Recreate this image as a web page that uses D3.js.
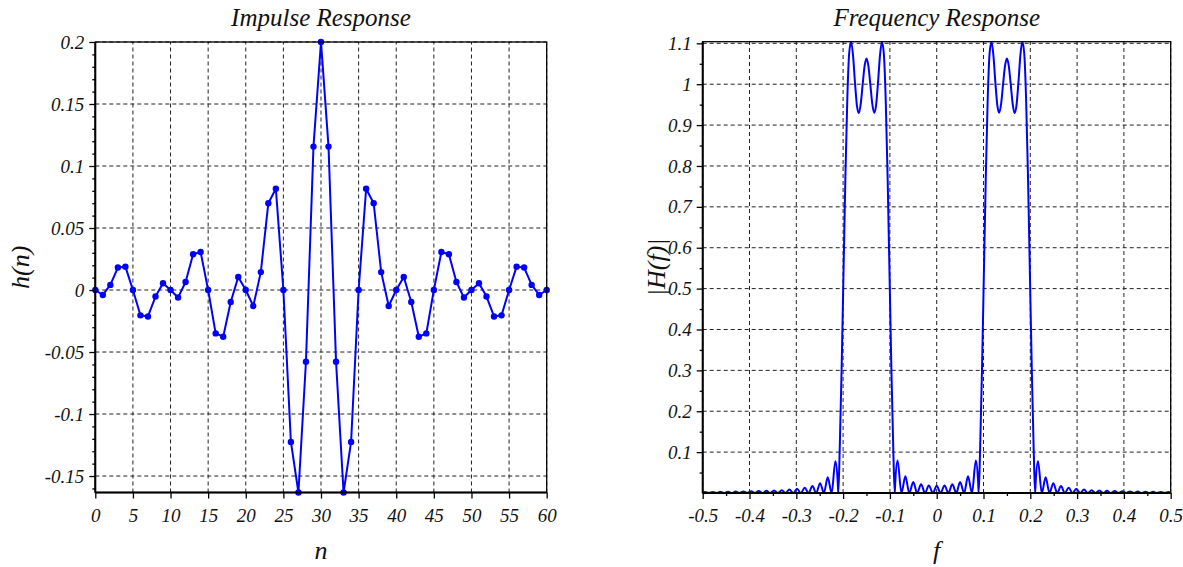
<!DOCTYPE html>
<html>
<head>
<meta charset="utf-8">
<script src="https://cdn.jsdelivr.net/npm/d3@7"></script>
<style>
  html, body { margin: 0; padding: 0; background: #fff; }
  svg { display: block; }
  text { font-family: "Liberation Serif", "Times New Roman", serif; font-style: italic; fill: #111; }
  .title { font-size: 25px; }
  .axis-title { font-size: 26px; }
</style>
</head>
<body>
<svg id="chart" width="1183" height="567"></svg>
<script>
// Impulse response h(n), n = 0 .. 60 (61-tap band-pass, centred on n = 30)
const impulse = [
  0, -0.003987, 0.004130, 0.018142, 0.018840, 0, -0.020410, -0.021297, -0.005256, 0.005506,
  0, -0.006086, 0.006424, 0.028813, 0.030614, 0, -0.034988, -0.037679, -0.009636, 0.010512,
  0, -0.012848, 0.014454, 0.069975, 0.081638, 0, -0.122457, -0.163276, -0.057817, 0.115633,
  0.2,
  0.115633, -0.057817, -0.163276, -0.122457, 0, 0.081638, 0.069975, 0.014454, -0.012848, 0,
  0.010512, -0.009636, -0.037679, -0.034988, 0, 0.030614, 0.028813, 0.006424, -0.006086, 0,
  0.005506, -0.005256, -0.021297, -0.020410, 0, 0.018840, 0.018142, 0.004130, -0.003987, 0
];

// Magnitude response |H(f)| sampled over normalised frequency -0.5 .. 0.5
const freq = [
  -0.5000, -0.4951, -0.4869, -0.4787, -0.4705, -0.4623, -0.4541, -0.4459, -0.4377, -0.4295,
  -0.4213, -0.4131, -0.4049, -0.3967, -0.3885, -0.3803, -0.3721, -0.3639, -0.3557, -0.3475,
  -0.3393, -0.3311, -0.3230, -0.3148, -0.3066, -0.2984, -0.2902, -0.2820, -0.2738, -0.2656,
  -0.2574, -0.2492, -0.2410, -0.2328, -0.2246, -0.2164, -0.2115, -0.2103, -0.2074, -0.2033,
  -0.2000, -0.1992, -0.1951, -0.1910, -0.1869, -0.1828, -0.1787, -0.1746, -0.1705, -0.1664,
  -0.1623, -0.1582, -0.1541, -0.1500, -0.1459, -0.1418, -0.1377, -0.1336, -0.1295, -0.1254,
  -0.1213, -0.1172, -0.1131, -0.1090, -0.1049, -0.1008, -0.1000, -0.0967, -0.0926, -0.0897,
  -0.0885, -0.0836, -0.0754, -0.0669, -0.0586, -0.0500, -0.0418, -0.0334, -0.0250, -0.0168,
  -0.0082,
  0.0000,
  0.0082, 0.0168, 0.0250, 0.0334, 0.0418, 0.0500, 0.0586, 0.0669, 0.0754, 0.0836,
  0.0885, 0.0897, 0.0926, 0.0967, 0.1000, 0.1008, 0.1049, 0.1090, 0.1131, 0.1172,
  0.1213, 0.1254, 0.1295, 0.1336, 0.1377, 0.1418, 0.1459, 0.1500, 0.1541, 0.1582,
  0.1623, 0.1664, 0.1705, 0.1746, 0.1787, 0.1828, 0.1869, 0.1910, 0.1951, 0.1992,
  0.2000, 0.2033, 0.2074, 0.2103, 0.2115, 0.2164, 0.2246, 0.2328, 0.2410, 0.2492,
  0.2574, 0.2656, 0.2738, 0.2820, 0.2902, 0.2984, 0.3066, 0.3148, 0.3230, 0.3311,
  0.3393, 0.3475, 0.3557, 0.3639, 0.3721, 0.3803, 0.3885, 0.3967, 0.4049, 0.4131,
  0.4213, 0.4295, 0.4377, 0.4459, 0.4541, 0.4623, 0.4705, 0.4787, 0.4869, 0.4951,
  0.5000
];
const mag = [
  0.0015, 0.0025, 0, 0.0027, 0, 0.0029, 0, 0.0032, 0, 0.0034,
  0, 0.0038, 0, 0.0042, 0, 0.0047, 0, 0.0053, 0, 0.0060,
  0, 0.0070, 0, 0.0084, 0, 0.0102, 0, 0.0128, 0, 0.0169,
  0, 0.0241, 0, 0.0383, 0, 0.0776, 0.0266, 0, 0.0991, 0.2960,
  0.4862, 0.5354, 0.7734, 0.9645, 1.0775, 1.1040, 1.0691, 1.0037, 0.9485, 0.9297,
  0.9522, 0.9994, 1.0441, 1.0628, 1.0440, 0.9994, 0.9524, 0.9301, 0.9488, 1.0037,
  1.0686, 1.1035, 1.0767, 0.9643, 0.7741, 0.5367, 0.4874, 0.2971, 0.0994, 0,
  0.0276, 0.0796, 0, 0.0408, 0, 0.0270, 0, 0.0213, 0, 0.0185,
  0,
  0.0178,
  0, 0.0185, 0, 0.0213, 0, 0.0270, 0, 0.0408, 0, 0.0796,
  0.0276, 0, 0.0994, 0.2971, 0.4874, 0.5367, 0.7741, 0.9643, 1.0767, 1.1035,
  1.0686, 1.0037, 0.9488, 0.9301, 0.9524, 0.9994, 1.0440, 1.0628, 1.0441, 0.9994,
  0.9522, 0.9297, 0.9485, 1.0037, 1.0691, 1.1040, 1.0775, 0.9645, 0.7734, 0.5354,
  0.4862, 0.2960, 0.0991, 0, 0.0266, 0.0776, 0, 0.0383, 0, 0.0241,
  0, 0.0169, 0, 0.0128, 0, 0.0102, 0, 0.0084, 0, 0.0070,
  0, 0.0060, 0, 0.0053, 0, 0.0047, 0, 0.0042, 0, 0.0038,
  0, 0.0034, 0, 0.0032, 0, 0.0029, 0, 0.0027, 0, 0.0025,
  0.0015
];

// Tick values and labels
const nTicks = [0, 5, 10, 15, 20, 25, 30, 35, 40, 45, 50, 55, 60];
const nTickLabels = ["0", "5", "10", "15", "20", "25", "30", "35", "40", "45", "50", "55", "60"];
const hTicks = [-0.15, -0.1, -0.05, 0, 0.05, 0.1, 0.15, 0.2];
const hTickLabels = ["-0.15", "-0.1", "-0.05", "0", "0.05", "0.1", "0.15", "0.2"];
const hMinorTicks = [-0.16, -0.14, -0.13, -0.12, -0.11, -0.09, -0.08, -0.07, -0.06,
  -0.04, -0.03, -0.02, -0.01, 0.01, 0.02, 0.03, 0.04, 0.06, 0.07, 0.08, 0.09,
  0.11, 0.12, 0.13, 0.14, 0.16, 0.17, 0.18, 0.19];
const fTicks = [-0.5, -0.4, -0.3, -0.2, -0.1, 0, 0.1, 0.2, 0.3, 0.4, 0.5];
const fTickLabels = ["-0.5", "-0.4", "-0.3", "-0.2", "-0.1", "0", "0.1", "0.2", "0.3", "0.4", "0.5"];
const fMinorTicks = [-0.45, -0.35, -0.25, -0.15, -0.05, 0.05, 0.15, 0.25, 0.35, 0.45];
const magTicks = [0.1, 0.2, 0.3, 0.4, 0.5, 0.6, 0.7, 0.8, 0.9, 1, 1.1];
const magTickLabels = ["0.1", "0.2", "0.3", "0.4", "0.5", "0.6", "0.7", "0.8", "0.9", "1", "1.1"];
const magMinorTicks = [0.05, 0.15, 0.25, 0.35, 0.45, 0.55, 0.65, 0.75, 0.85, 0.95, 1.05];

const svg = d3.select("#chart");
const BLUE = "#0000ff";
const SERIF = '"Liberation Serif", "Times New Roman", serif';

function drawPanel(opt) {
  const { x, y, xTicks, xLabels, xMinor, yTicks, yLabels, yMinor } = opt;
  const [x0, x1] = x.range();
  const [y0, y1] = y.range(); // y0 = bottom, y1 = top
  const g = svg.append("g");

  // dashed grid
  const grid = g.append("g")
    .attr("stroke", "#222")
    .attr("stroke-width", 1)
    .attr("stroke-dasharray", "4,3")
    .attr("fill", "none");
  grid.selectAll("line.v").data(xTicks).join("line")
    .attr("class", "v")
    .attr("x1", d => x(d)).attr("x2", d => x(d))
    .attr("y1", y0).attr("y2", y1);
  grid.selectAll("line.h").data(yTicks).join("line")
    .attr("class", "h")
    .attr("x1", x0).attr("x2", x1)
    .attr("y1", d => y(d)).attr("y2", d => y(d));

  const plot = g.append("g");

  // frame
  g.append("rect")
    .attr("x", x0).attr("y", y1)
    .attr("width", x1 - x0).attr("height", y0 - y1)
    .attr("fill", "none").attr("stroke", "#000").attr("stroke-width", 1.3);
  g.append("line").attr("x1", x0).attr("x2", x0).attr("y1", y1).attr("y2", y0)
    .attr("stroke", "#000").attr("stroke-width", 2);
  g.append("line").attr("x1", x0).attr("x2", x1).attr("y1", y0).attr("y2", y0)
    .attr("stroke", "#000").attr("stroke-width", 2);

  // axes
  const styleAxis = a => {
    a.select(".domain").remove();
    a.selectAll(".tick line").attr("stroke", "#000").attr("stroke-width", 1.3);
    a.selectAll(".tick text")
      .style("font-family", SERIF)
      .style("font-style", "italic")
      .style("font-size", "19px")
      .style("fill", "#111");
  };
  g.append("g").attr("transform", `translate(0,${y0})`)
    .call(d3.axisBottom(x).tickValues(xTicks).tickFormat((d, i) => xLabels[i]).tickSize(6).tickPadding(10))
    .call(styleAxis);
  if (xMinor) {
    g.append("g").attr("transform", `translate(0,${y0})`)
      .call(d3.axisBottom(x).tickValues(xMinor).tickFormat("").tickSize(3))
      .call(styleAxis);
  }
  g.append("g").attr("transform", `translate(${x0},0)`)
    .call(d3.axisLeft(y).tickValues(yTicks).tickFormat((d, i) => yLabels[i]).tickSize(6).tickPadding(5))
    .call(styleAxis);
  g.append("g").attr("transform", `translate(${x0},0)`)
    .call(d3.axisLeft(y).tickValues(yMinor).tickFormat("").tickSize(3))
    .call(styleAxis);

  // titles
  g.append("text").attr("class", "title")
    .attr("x", (x0 + x1) / 2).attr("y", 26)
    .attr("text-anchor", "middle").text(opt.title);
  g.append("text").attr("class", "axis-title")
    .attr("x", (x0 + x1) / 2).attr("y", 559)
    .attr("text-anchor", "middle").text(opt.xTitle);
  g.append("text").attr("class", "axis-title")
    .attr("transform", `translate(${opt.yTitleX},${(y0 + y1) / 2}) rotate(-90)`)
    .attr("text-anchor", "middle").text(opt.yTitle);

  return plot;
}

// ---- Impulse response ----
const xL = d3.scaleLinear().domain([0, 60]).range([95.3, 546.7]);
const yL = d3.scaleLinear().domain([d3.min(impulse), d3.max(impulse)]).range([492.5, 42]);
const plotL = drawPanel({
  x: xL, y: yL,
  xTicks: nTicks, xLabels: nTickLabels, xMinor: null,
  yTicks: hTicks, yLabels: hTickLabels, yMinor: hMinorTicks,
  title: "Impulse Response", xTitle: "n", yTitle: "h(n)", yTitleX: 29
});
const pts = impulse.map((v, i) => [i, v]);
plotL.append("path")
  .datum(pts)
  .attr("fill", "none").attr("stroke", BLUE).attr("stroke-width", 2)
  .attr("stroke-linejoin", "round")
  .attr("d", d3.line().x(d => xL(d[0])).y(d => yL(d[1])));
plotL.selectAll("circle").data(pts).join("circle")
  .attr("cx", d => xL(d[0])).attr("cy", d => yL(d[1]))
  .attr("r", 3.2).attr("fill", BLUE);

// ---- Frequency response ----
const xR = d3.scaleLinear().domain([-0.5, 0.5]).range([702.7, 1170.7]);
const yR = d3.scaleLinear().domain([0, d3.max(mag)]).range([493, 41.7]);
const plotR = drawPanel({
  x: xR, y: yR,
  xTicks: fTicks, xLabels: fTickLabels, xMinor: fMinorTicks,
  yTicks: magTicks, yLabels: magTickLabels, yMinor: magMinorTicks,
  title: "Frequency Response", xTitle: "f", yTitle: "|H(f)|", yTitleX: 665
});
const resp = freq.map((f, i) => [f, mag[i]]);
plotR.append("path")
  .datum(resp)
  .attr("fill", "none").attr("stroke", BLUE).attr("stroke-width", 2)
  .attr("stroke-linejoin", "round")
  .attr("d", d3.line().curve(d3.curveMonotoneX).x(d => xR(d[0])).y(d => yR(d[1])));
</script>
</body>
</html>
